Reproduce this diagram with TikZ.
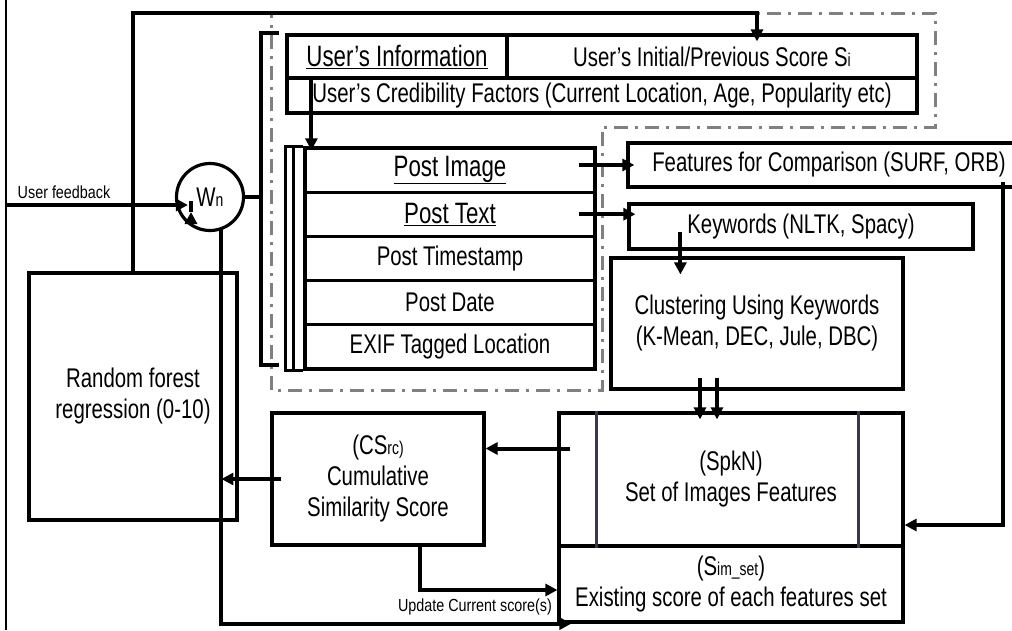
\documentclass[tikz,border=0pt]{standalone}
\usepackage{fontspec}
\setmainfont{Liberation Sans}[FakeStretch=0.755]
\newfontfamily\labelfont{Liberation Sans}[FakeStretch=0.82]
\usepackage{xcolor}
\usetikzlibrary{arrows.meta,calc}

\definecolor{spkline}{HTML}{3E3350}
\newcommand{\subtxt}[1]{{\fontsize{18.5}{18}\selectfont #1}}
\newcommand{\headtxt}[1]{{\fontsize{29.5}{31}\selectfont\underline{#1}}}
\tikzset{
  blk/.style={draw, line width=3.2pt, align=center, inner sep=0pt, font=\fontsize{27}{31}\selectfont},
  flow/.style={line width=4pt, -{Triangle[length=12pt,width=12pt]}},
  lbl/.style={font=\labelfont\fontsize{17.5}{20}\selectfont, inner sep=0pt},
}

\begin{document}
\begin{tikzpicture}[x=1pt,y=-1pt]
    \useasboundingbox (0,0) rectangle (1012,630);
    % dash-dot frame round the inputs
    \draw[line width=3pt, color=black!50, dash pattern=on 14pt off 7pt on 3pt off 7pt] (271,13) -- (935,13) -- (935,127) -- (602,127) -- (602,390) -- (271,390) -- cycle;
    \coordinate (lt) at (6,0);
    \coordinate (lb) at (6,630);
    \coordinate (fb) at (6,205);
    \coordinate (topr) at (757,13);
    \coordinate (brt) at (261,33);
    \coordinate (brb) at (261,365);
    \draw[line width=1.5pt] (lt) -- (lb);

    % user block
    \node[blk, minimum width=220pt, minimum height=43pt] at (397,56.5) (ui) {\headtxt{User's Information}};
    \node[blk, minimum width=410pt, minimum height=43pt] at (712,56.5) (us) {User's Initial/Previous Score S\subtxt{i}};
    \node[blk, minimum width=630pt, minimum height=35pt] at (602,95.5) (cf) {User's Credibility Factors (Current Location, Age, Popularity etc)};

    % post block
    \node[blk, minimum width=290pt, minimum height=44.2pt] at (450,170) (p1) {\headtxt{Post Image}};
    \node[blk, minimum width=290pt, minimum height=44.2pt] at (450,214.2) (p2) {\headtxt{Post Text}};
    \node[blk, minimum width=290pt, minimum height=44.2pt] at (450,258.4) (p3) {Post Timestamp};
    \node[blk, minimum width=290pt, minimum height=44.2pt] at (450,302.6) (p4) {Post Date};
    \node[blk, minimum width=290pt, minimum height=44.2pt] at (450,346.8) (p5) {EXIF Tagged Location};
    \draw[line width=3.2pt] (p1.north west) -- ($(p1.north west)+(-18,0)$) -- ($(p5.south west)+(-18,0)$) -- (p5.south west);
    \draw[line width=2.5pt] ($(p1.north west)+(-10,0)$) -- ($(p5.south west)+(-10,0)$);
    \draw[line width=4pt] (279,33) -- (brt) -- (brb) -- (279,365);

    % processing
    \node[blk, minimum width=402pt, minimum height=44pt] at (829,165) (feat) {Features for Comparison (SURF, ORB)};
    \node[blk, minimum width=344pt, minimum height=45pt] at (801,226.5) (kw) {Keywords (NLTK, Spacy)};
    \node[blk, minimum width=292pt, minimum height=131pt] at (757,323.5) (clu) {Clustering Using Keywords\\(K-Mean, DEC, Jule, DBC)};
    \node[blk, minimum width=344pt, minimum height=133pt] at (731,479.5) (spk) {(SpkN)\\Set of Images Features};
    \node[blk, minimum width=344pt, minimum height=76pt] at (731,584) (sim) {(S\subtxt{im\_set})\\Existing score of each features set};
    \node[blk, minimum width=212pt, minimum height=132pt] at (378,479) (cs) {(CS\subtxt{rc)}\\Cumulative\\Similarity Score};
    \node[blk, minimum width=208pt, minimum height=247pt] at (133,396.5) (rf) {Random forest\\regression (0-10)};
    \node[blk, circle, minimum size=67pt] at (210,197) (wn) {W\subtxt{n}};
    \draw[line width=3.2pt, color=spkline] ([xshift=39pt]spk.north west) -- ([xshift=39pt]spk.south west);
    \draw[line width=3.2pt, color=spkline] ([xshift=-46pt]spk.north east) -- ([xshift=-46pt]spk.south east);

    \node[lbl] at (64,192) (fbl) {User feedback};
    \node[lbl] at (475,607) (upl) {Update Current score(s)};

    % connectors
    \draw[flow] (rf.north) |- (topr) -- ($(topr |- us.north)+(0,8)$);
    \draw[flow] ([xshift=26pt]ui.south west) -- ($([xshift=26pt]ui.south west |- p1.north)+(0,4)$);
    \draw[flow] ([xshift=-18pt]p1.east |- feat.west) -- ($(feat.west)+(8,0)$);
    \draw[flow] ([xshift=-18pt]p2.east) -- ($(p2.east -| kw.west)+(8,0)$);
    \draw[flow] ([xshift=53pt,yshift=-5pt]kw.west) -- ($([xshift=53pt]kw.west |- clu.north)+(0,18)$);
    \draw[flow] ([xshift=-57pt,yshift=13pt]clu.south) -- ($([xshift=-57pt]clu.south |- spk.north)+(0,8)$);
    \draw[flow] ([xshift=-40pt,yshift=13pt]clu.south) -- ($([xshift=-40pt]clu.south |- spk.north)+(0,8)$);
    \draw[flow] ([xshift=377pt,yshift=7pt]feat.south west) |- ([yshift=-45.5pt]spk.east);
    \draw[flow] ([xshift=13pt,yshift=31pt]spk.west) -- ([yshift=31pt]spk.west -| cs.east);
    \draw[flow] ([xshift=11pt]cs.west) -- (cs.west -| wn.-71);
    \draw[flow] ([xshift=42pt]cs.south) |- ([yshift=-6pt]sim.west);
    \draw[flow] (wn.-71) |- ($(sim.south west)+(14,0)$);
    \draw[flow] (fb) -- ($(fb -| wn.west)+(13,0)$);
    \draw[flow] ($(wn.center)+(-19,15)$) -- ($(wn.center)+(-19,15)$ |- rf.north);
    \draw[line width=3.2pt] (wn.east) -- (wn.east -| brt);
\end{tikzpicture}
\end{document}
